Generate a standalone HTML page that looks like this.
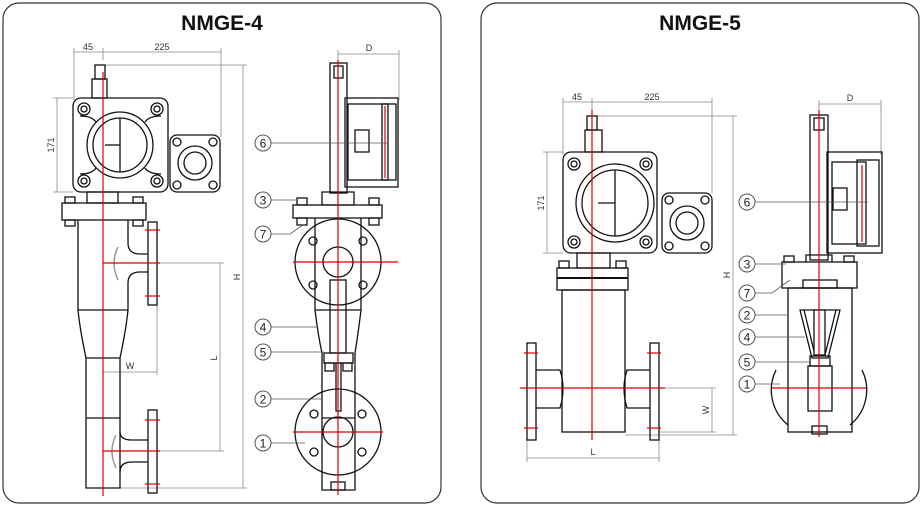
<!DOCTYPE html>
<html><head><meta charset="utf-8"><style>
html,body{margin:0;padding:0;background:#fff;width:923px;height:508px;overflow:hidden}
svg{display:block}
.t{font-family:"Liberation Sans Narrow","Liberation Sans",sans-serif;font-weight:bold;font-size:21px;fill:#111}
.d{font-family:"Liberation Sans",sans-serif;font-size:9px;fill:#333}
.n{font-family:"Liberation Sans",sans-serif;font-size:12px;fill:#222}
.k{fill:none;stroke:#111;stroke-width:1.3}
.g{fill:none;stroke:#888;stroke-width:.8}
.r{fill:none;stroke:#d00;stroke-width:1.2}
.c{fill:#fff;stroke:#555;stroke-width:1}
</style></head><body>
<svg width="923" height="508" viewBox="0 0 923 508">
<rect x="3" y="3" width="438" height="500" rx="16" fill="#fff" stroke="#333" stroke-width="1.2"/>
<rect x="481" y="3" width="438" height="500" rx="16" fill="#fff" stroke="#333" stroke-width="1.2"/>
<text class="t" x="222" y="30" text-anchor="middle">NMGE-4</text>
<text class="t" x="700" y="30" text-anchor="middle">NMGE-5</text>

<!-- ===== LEFT FRONT VIEW ===== -->
<g class="g">
<line x1="74" y1="52" x2="221" y2="52"/><line x1="74" y1="48" x2="74" y2="100"/><line x1="103" y1="48" x2="103" y2="60"/><line x1="221" y1="48" x2="221" y2="137"/>
<line x1="103" y1="65" x2="247" y2="65"/><line x1="243" y1="65" x2="243" y2="488"/><line x1="86" y1="488" x2="247" y2="488"/>
<line x1="53" y1="98" x2="73" y2="98"/><line x1="53" y1="192" x2="73" y2="192"/><line x1="57" y1="98" x2="57" y2="192"/>
<line x1="157" y1="263" x2="224" y2="263"/><line x1="157" y1="451" x2="224" y2="451"/><line x1="220" y1="263" x2="220" y2="451"/>
<line x1="103" y1="372" x2="157" y2="372"/><line x1="157" y1="305" x2="157" y2="375"/>
</g>
<text class="d" x="88" y="50" text-anchor="middle">45</text>
<text class="d" x="162" y="50" text-anchor="middle">225</text>
<text class="d" transform="translate(54,145) rotate(-90)" text-anchor="middle">171</text>
<text class="d" transform="translate(240,277) rotate(-90)" text-anchor="middle">H</text>
<text class="d" transform="translate(217,358) rotate(-90)" text-anchor="middle">L</text>
<text class="d" x="130" y="369" text-anchor="middle">W</text>
<g class="k">
<rect x="95" y="65" width="10" height="14"/><rect x="92" y="79" width="15" height="19"/>
<rect x="73" y="98" width="95" height="94" rx="8"/>
<path d="M80 116 Q92 116 96 122 M161 116 Q149 116 145 122 M80 174 Q92 174 96 168 M161 174 Q149 174 145 168"/>
<circle cx="84" cy="109" r="6"/><circle cx="157" cy="109" r="6"/><circle cx="84" cy="181" r="6"/><circle cx="157" cy="181" r="6"/>
<circle cx="84" cy="109" r="3"/><circle cx="157" cy="109" r="3"/><circle cx="84" cy="181" r="3"/><circle cx="157" cy="181" r="3"/>
<circle cx="120" cy="145" r="33"/><circle cx="120" cy="145" r="27"/>
<line x1="120" y1="118" x2="120" y2="172"/><line x1="105" y1="145" x2="120" y2="145"/>
<rect x="170" y="135" width="50" height="57" rx="7"/><circle cx="195" cy="163" r="17"/><circle cx="195" cy="163" r="11"/>
<circle cx="177" cy="142" r="4"/><circle cx="213" cy="142" r="4"/><circle cx="177" cy="185" r="4"/><circle cx="213" cy="185" r="4"/>
<rect x="87" y="192" width="31" height="11"/>
<rect x="62" y="203" width="84" height="17"/>
<rect x="65" y="197" width="10" height="6"/><rect x="133" y="197" width="10" height="6"/><rect x="65" y="220" width="10" height="6"/><rect x="133" y="220" width="10" height="6"/>
<path d="M78 220 L78 310 Q80 330 86 358 L86 488 L120 488 L120 358 Q126 330 128 310 L128 283 Q128 272 140 272 L148 272 M148 254 L140 254 Q128 254 128 243 L128 220"/>
<line x1="78" y1="310" x2="128" y2="310"/><line x1="86" y1="358" x2="120" y2="358"/><line x1="86" y1="418" x2="120" y2="418"/>
<rect x="148" y="222" width="9" height="83"/><rect x="148" y="410" width="9" height="83"/>
<path d="M120 432 Q120 440 132 440 L148 440 M148 462 L132 462 Q120 462 120 472"/>
</g>
<path d="M118 247 Q110 263 118 280" fill="none" stroke="#999" stroke-width="1.5"/>
<path d="M116 435 Q108 451 116 468" fill="none" stroke="#999" stroke-width="1.5"/>
<g class="r">
<line x1="103" y1="72" x2="103" y2="496"/>
<line x1="103" y1="263" x2="160" y2="263"/><line x1="103" y1="451" x2="160" y2="451"/>
<line x1="145" y1="230" x2="160" y2="230"/><line x1="145" y1="296" x2="160" y2="296"/>
<line x1="145" y1="420" x2="160" y2="420"/><line x1="145" y1="484" x2="160" y2="484"/>
</g>

<!-- ===== LEFT SIDE VIEW ===== -->
<g class="g"><line x1="338" y1="54" x2="399" y2="54"/><line x1="338" y1="50" x2="338" y2="65"/><line x1="399" y1="50" x2="399" y2="100"/></g>
<text class="d" x="369" y="51" text-anchor="middle">D</text>
<g class="k">
<rect x="330" y="63" width="17" height="130"/><rect x="334" y="66" width="9" height="12"/>
<rect x="345" y="98" width="53" height="89"/><rect x="348" y="104" width="40" height="76"/><rect x="382" y="104" width="14" height="76"/>
<rect x="355" y="130" width="14" height="22"/>
<path d="M322 192 L322 205 L354 205 L354 192 Z"/>
<rect x="293" y="205" width="89" height="13"/>
<rect x="297" y="198" width="10" height="7"/><rect x="369" y="198" width="10" height="7"/><rect x="297" y="218" width="10" height="7"/><rect x="369" y="218" width="10" height="7"/>
<circle cx="338" cy="262" r="43"/><circle cx="338" cy="262" r="15"/>
<circle cx="313" cy="241" r="4"/><circle cx="363" cy="241" r="4"/><circle cx="313" cy="285" r="4"/><circle cx="363" cy="285" r="4"/>
<path d="M315 218 L315 310 Q318 335 322 353 L322 490 L355 490 L355 353 Q358 335 361 310 L361 218"/>
<line x1="315" y1="310" x2="361" y2="310"/>
<rect x="330" y="280" width="16" height="73"/>
<rect x="324" y="353" width="29" height="10"/><rect x="325" y="363" width="9" height="8"/><rect x="343" y="363" width="9" height="8"/>
<rect x="336" y="363" width="5" height="48"/>
<line x1="322" y1="418" x2="355" y2="418"/>
<circle cx="338" cy="432" r="43"/><circle cx="338" cy="432" r="15"/>
<circle cx="314" cy="414" r="4"/><circle cx="362" cy="414" r="4"/><circle cx="314" cy="452" r="4"/><circle cx="362" cy="452" r="4"/>
<rect x="331" y="482" width="14" height="8"/>
</g>
<g class="r">
<line x1="338" y1="60" x2="338" y2="495"/>
<line x1="293" y1="262" x2="398" y2="262"/><line x1="293" y1="432" x2="383" y2="432"/>
<line x1="385" y1="106" x2="385" y2="178"/>
</g>
<g stroke="#555" stroke-width=".8">
<line x1="271" y1="143" x2="388" y2="143"/><line x1="271" y1="200" x2="297" y2="200"/><path d="M271 234 L290 234 L303 225" fill="none"/>
<line x1="271" y1="327" x2="318" y2="327"/><line x1="271" y1="352" x2="324" y2="352"/><line x1="271" y1="399" x2="322" y2="399"/><line x1="271" y1="443" x2="305" y2="443"/>
</g>
<g>
<circle class="c" cx="263" cy="143" r="8"/><text class="n" x="263" y="147.5" text-anchor="middle">6</text>
<circle class="c" cx="263" cy="200" r="8"/><text class="n" x="263" y="204.5" text-anchor="middle">3</text>
<circle class="c" cx="263" cy="234" r="8"/><text class="n" x="263" y="238.5" text-anchor="middle">7</text>
<circle class="c" cx="263" cy="327" r="8"/><text class="n" x="263" y="331.5" text-anchor="middle">4</text>
<circle class="c" cx="263" cy="352" r="8"/><text class="n" x="263" y="356.5" text-anchor="middle">5</text>
<circle class="c" cx="263" cy="399" r="8"/><text class="n" x="263" y="403.5" text-anchor="middle">2</text>
<circle class="c" cx="263" cy="443" r="8"/><text class="n" x="263" y="447.5" text-anchor="middle">1</text>
</g>

<!-- ===== RIGHT FRONT VIEW ===== -->
<g class="g">
<line x1="563" y1="102" x2="712" y2="102"/><line x1="563" y1="98" x2="563" y2="155"/><line x1="592" y1="98" x2="592" y2="110"/><line x1="712" y1="98" x2="712" y2="193"/>
<line x1="592" y1="116" x2="737" y2="116"/><line x1="733" y1="116" x2="733" y2="435"/><line x1="625" y1="435" x2="737" y2="435"/>
<line x1="543" y1="152" x2="563" y2="152"/><line x1="543" y1="253" x2="563" y2="253"/><line x1="547" y1="152" x2="547" y2="253"/>
<line x1="659" y1="388" x2="716" y2="388"/><line x1="659" y1="432" x2="716" y2="432"/><line x1="712" y1="388" x2="712" y2="432"/>
<line x1="527" y1="458" x2="659" y2="458"/><line x1="527" y1="440" x2="527" y2="462"/><line x1="659" y1="440" x2="659" y2="462"/>
</g>
<text class="d" x="577" y="100" text-anchor="middle">45</text>
<text class="d" x="652" y="100" text-anchor="middle">225</text>
<text class="d" transform="translate(544,203) rotate(-90)" text-anchor="middle">171</text>
<text class="d" transform="translate(730,275) rotate(-90)" text-anchor="middle">H</text>
<text class="d" transform="translate(709,410) rotate(-90)" text-anchor="middle">W</text>
<text class="d" x="593" y="455" text-anchor="middle">L</text>
<g class="k">
<rect x="587" y="116" width="10" height="14"/><rect x="585" y="130" width="17" height="22"/>
<rect x="563" y="152" width="94" height="101" rx="8"/>
<circle cx="574" cy="164" r="6"/><circle cx="646" cy="164" r="6"/><circle cx="574" cy="242" r="6"/><circle cx="646" cy="242" r="6"/>
<circle cx="574" cy="164" r="3"/><circle cx="646" cy="164" r="3"/><circle cx="574" cy="242" r="3"/><circle cx="646" cy="242" r="3"/>
<circle cx="615" cy="203" r="39"/><circle cx="615" cy="203" r="33"/>
<line x1="615" y1="170" x2="615" y2="236"/><line x1="598" y1="203" x2="615" y2="203"/>
<rect x="662" y="193" width="50" height="60" rx="7"/><circle cx="687" cy="223" r="17"/><circle cx="687" cy="223" r="11"/>
<circle cx="669" cy="200" r="4"/><circle cx="705" cy="200" r="4"/><circle cx="669" cy="246" r="4"/><circle cx="705" cy="246" r="4"/>
<rect x="577" y="253" width="33" height="15"/>
<rect x="557" y="268" width="71" height="22"/><line x1="557" y1="278" x2="628" y2="278" stroke-width="2"/>
<rect x="559" y="261" width="10" height="7"/><rect x="616" y="261" width="10" height="7"/>
<rect x="562" y="290" width="63" height="142"/>
<rect x="527" y="343" width="9" height="97"/><rect x="650" y="343" width="9" height="97"/>
<path d="M536 370 L560 370 Q566 388 560 408 L536 408 M650 370 L627 370 Q621 388 627 408 L650 408"/>
</g>
<g class="r">
<line x1="592" y1="110" x2="592" y2="440"/>
<line x1="520" y1="388" x2="665" y2="388"/>
<line x1="524" y1="353" x2="538" y2="353"/><line x1="524" y1="428" x2="538" y2="428"/>
<line x1="647" y1="353" x2="661" y2="353"/><line x1="647" y1="428" x2="661" y2="428"/>
</g>

<!-- ===== RIGHT SIDE VIEW ===== -->
<g class="g"><line x1="819" y1="104" x2="881" y2="104"/><line x1="819" y1="100" x2="819" y2="115"/><line x1="881" y1="100" x2="881" y2="155"/></g>
<text class="d" x="850" y="101" text-anchor="middle">D</text>
<g class="k">
<path d="M776 370 A45 45 0 0 0 788 425 M862 370 A45 45 0 0 1 850 425"/>
<rect x="810" y="115" width="18" height="145"/><rect x="814" y="118" width="10" height="12"/>
<rect x="827" y="152" width="55" height="101"/><rect x="832" y="162" width="34" height="82"/><rect x="857" y="160" width="22" height="86"/>
<rect x="833" y="188" width="14" height="22"/>
<path d="M806 262 L806 255 L832 255 L832 262"/>
<rect x="782" y="262" width="75" height="26"/>
<rect x="784" y="256" width="10" height="6"/><rect x="844" y="256" width="10" height="6"/>
<rect x="788" y="288" width="64" height="144"/>
<rect x="803" y="280" width="34" height="8"/>
<path d="M800 310 L840 310 L828 358 L812 358 Z"/><path d="M804 310 L815 355 M836 310 L825 355"/>
<rect x="814" y="310" width="11" height="45" fill="#fff"/>
<rect x="810" y="356" width="20" height="10"/><rect x="808" y="366" width="24" height="45"/>
<rect x="812" y="426" width="15" height="8"/>
</g>
<g class="r">
<line x1="819" y1="110" x2="819" y2="437"/>
<line x1="772" y1="388" x2="866" y2="388"/>
<line x1="862" y1="165" x2="862" y2="242"/>
</g>
<g stroke="#555" stroke-width=".8">
<line x1="755" y1="202" x2="868" y2="202"/><line x1="755" y1="264" x2="786" y2="264"/><path d="M755 293 L772 293 L790 280" fill="none"/>
<line x1="755" y1="315" x2="788" y2="315"/><line x1="755" y1="337" x2="805" y2="337"/><line x1="755" y1="362" x2="810" y2="362"/><line x1="755" y1="384" x2="780" y2="384"/>
</g>
<g>
<circle class="c" cx="747" cy="202" r="8"/><text class="n" x="747" y="206.5" text-anchor="middle">6</text>
<circle class="c" cx="747" cy="264" r="8"/><text class="n" x="747" y="268.5" text-anchor="middle">3</text>
<circle class="c" cx="747" cy="293" r="8"/><text class="n" x="747" y="297.5" text-anchor="middle">7</text>
<circle class="c" cx="747" cy="315" r="8"/><text class="n" x="747" y="319.5" text-anchor="middle">2</text>
<circle class="c" cx="747" cy="337" r="8"/><text class="n" x="747" y="341.5" text-anchor="middle">4</text>
<circle class="c" cx="747" cy="362" r="8"/><text class="n" x="747" y="366.5" text-anchor="middle">5</text>
<circle class="c" cx="747" cy="384" r="8"/><text class="n" x="747" y="388.5" text-anchor="middle">1</text>
</g>
</svg>
</body></html>
